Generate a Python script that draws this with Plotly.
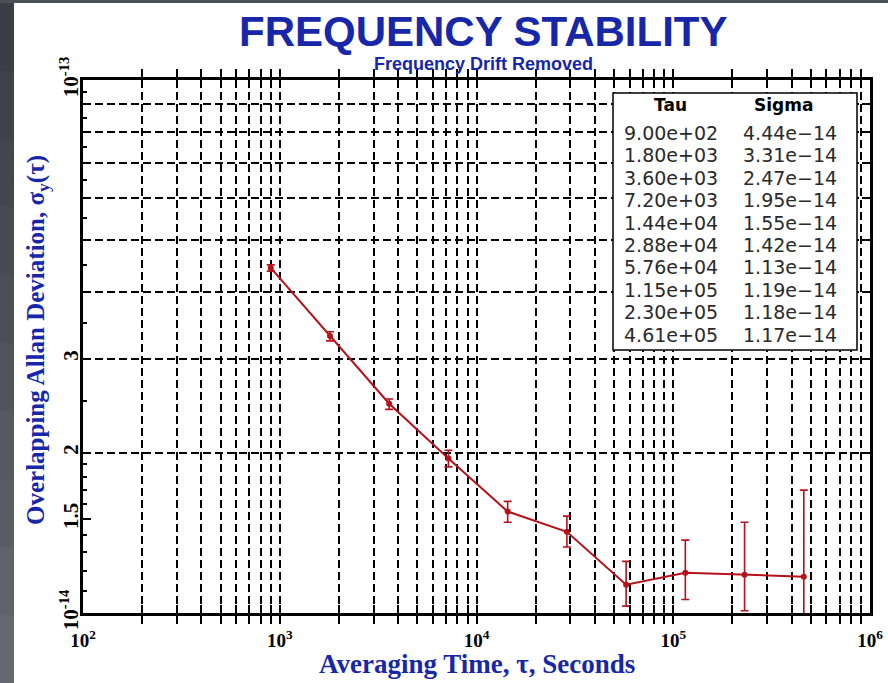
import plotly.graph_objects as go

# ---------------- data ----------------
tau = [900, 1800, 3600, 7200, 14400, 28800, 57600, 115200, 230400, 460800]
sigma = [4.44e-14, 3.31e-14, 2.47e-14, 1.95e-14, 1.55e-14, 1.42e-14,
         1.13e-14, 1.19e-14, 1.18e-14, 1.17e-14]
sigma_hi = [4.50e-14, 3.37e-14, 2.52e-14, 2.02e-14, 1.62e-14, 1.52e-14,
            1.25e-14, 1.37e-14, 1.48e-14, 1.70e-14]
sigma_lo = [4.38e-14, 3.24e-14, 2.41e-14, 1.88e-14, 1.48e-14, 1.33e-14,
            1.03e-14, 1.06e-14, 1.01e-14, 0.96e-14]

x_decades = [2, 3, 4, 5, 6]
y_label_vals = [1e-14, 1.5e-14, 2e-14, 3e-14, 1e-13]
y_label_text = ["10<sup>-14</sup>", "1.5", "2", "3", "10<sup>-13</sup>"]
y_grid_vals = [1e-14, 2e-14, 3e-14, 4e-14, 5e-14, 6e-14, 7e-14, 8e-14, 9e-14, 1e-13]
y_minor_vals = [1.1e-14, 1.2e-14, 1.3e-14, 1.4e-14, 1.6e-14, 1.7e-14, 1.8e-14, 1.9e-14,
                2.5e-14, 3.5e-14, 4.5e-14, 5.5e-14, 6.5e-14, 7.5e-14, 8.5e-14, 9.5e-14]

# ---------------- layout geometry ----------------
W_FIG, H_FIG = 888, 683
L, R, T, B = 83, 18, 80, 70
PW = W_FIG - L - R
PH = H_FIG - T - B


def px(xp):
    return (xp - L) / PW


def py(yp):
    return (H_FIG - B - yp) / PH


BLUE = "#1727a8"
RED = "#b5121b"
SERIF = "Liberation Serif"

x_tickvals, x_ticktext = [], []
for d in x_decades:
    for m in range(1, 10):
        if d == x_decades[-1] and m > 1:
            break
        x_tickvals.append(m * 10 ** d)
        x_ticktext.append(f"<b>10<sup>{d}</sup></b>" if m == 1 else "")

fig = go.Figure()
fig.add_trace(go.Scatter(
    x=tau, y=sigma, mode="lines+markers",
    line=dict(color=RED, width=2),
    marker=dict(color=RED, size=6, symbol="circle"),
    error_y=dict(type="data", symmetric=False,
                 array=[h - s for h, s in zip(sigma_hi, sigma)],
                 arrayminus=[s - l for s, l in zip(sigma, sigma_lo)],
                 color=RED, thickness=1.6, width=4),
    showlegend=False, hoverinfo="x+y",
))
# empty trace so the label axis exists
fig.add_trace(go.Scatter(x=[], y=[], yaxis="y2", showlegend=False))

grid = dict(showgrid=True, gridcolor="black", gridwidth=1.5, griddash="8px,4px")

fig.update_layout(
    template="none",
    width=W_FIG, height=H_FIG, autosize=False,
    margin=dict(l=L, r=R, t=T, b=B, pad=0),
    paper_bgcolor="#4b5058", plot_bgcolor="white",
    xaxis=dict(type="log", range=[2, 6], tickmode="array",
               tickvals=x_tickvals, ticktext=x_ticktext,
               tickfont=dict(family=SERIF, size=19, color="black"),
               ticks="inside", ticklen=8, tickcolor="black", tickwidth=1.5,
               showline=True, linecolor="black", linewidth=2.5, mirror="allticks",
               zeroline=False, ticklabelstandoff=8, automargin=False, **grid),
    yaxis=dict(type="log", range=[-14, -13], tickmode="array",
               tickvals=y_grid_vals, showticklabels=False,
               ticks="inside", ticklen=8, tickcolor="black", tickwidth=1.5,
               showline=True, linecolor="black", linewidth=2.5, mirror="allticks",
               zeroline=False, automargin=False, **grid),
    yaxis2=dict(type="log", range=[-14, -13], overlaying="y", side="left", anchor="x",
                tickmode="array", tickvals=y_label_vals,
                ticktext=[f"<b>{t}</b>" for t in y_label_text],
                tickangle=-90, tickfont=dict(family=SERIF, size=21, color="black"),
                ticks="inside", ticklen=8, tickcolor="black", tickwidth=1.5,
                minor=dict(tickmode="array", tickvals=y_minor_vals, ticks="inside",
                           ticklen=4, tickcolor="black", showgrid=False),
                showgrid=False, showline=False, zeroline=False, automargin=False),
)

# white page with dark window border strips
fig.add_shape(type="rect", xref="paper", yref="paper", layer="below",
              x0=px(14), x1=px(W_FIG + 5), y0=py(H_FIG + 5), y1=py(3),
              fillcolor="white", line=dict(width=0))
n_band = 10
for i in range(n_band):
    c0 = (58, 62, 70)
    c1 = (98, 103, 112)
    f = i / (n_band - 1)
    col = "rgb({},{},{})".format(*[int(a + (b - a) * f) for a, b in zip(c0, c1)])
    fig.add_shape(type="rect", xref="paper", yref="paper", layer="below",
                  x0=px(-2), x1=px(14), y0=py(3 + (H_FIG - 3) * (i + 1) / n_band + 1),
                  y1=py(3 + (H_FIG - 3) * i / n_band),
                  fillcolor=col, line=dict(width=0))

# legend table box
fig.add_shape(type="rect", xref="paper", yref="paper", layer="above",
              x0=px(613), x1=px(857), y0=py(350), y1=py(93),
              fillcolor="white", line=dict(color="black", width=1.5))

ann = []
ann.append(dict(text="<b>FREQUENCY STABILITY</b>", x=px(483), y=py(32),
                font=dict(family="Liberation Sans", size=42, color=BLUE)))
ann.append(dict(text="<b>Frequency Drift Removed</b>", x=px(483), y=py(64),
                font=dict(family="Liberation Sans", size=18, color=BLUE)))
ann.append(dict(text="<b>Averaging Time, \u03c4, Seconds</b>", x=0.5, y=py(664),
                font=dict(family=SERIF, size=27, color=BLUE)))
ann.append(dict(text="<b>Overlapping Allan Deviation, \u03c3<sub>y</sub>(\u03c4)</b>",
                x=px(37), y=py(340), textangle=-90,
                font=dict(family=SERIF, size=25, color=BLUE)))
TFONT = dict(family="DejaVu Sans", size=19, color="#2a2a2a")
ann.append(dict(text="<b>Tau</b>", x=px(670), y=py(105), font=dict(family="DejaVu Sans", size=17, color="black")))
ann.append(dict(text="<b>Sigma</b>", x=px(783), y=py(105), font=dict(family="DejaVu Sans", size=17, color="black")))
for i, (t, s) in enumerate(zip(tau, sigma)):
    yy = py(133 + 22.4 * i)
    ann.append(dict(text="{:.2e}".format(t), x=px(622), y=yy, xanchor="left", font=TFONT))
    ann.append(dict(text="{:.2e}".format(s).replace("-", "\u2212"), x=px(741), y=yy,
                    xanchor="left", font=TFONT))

for a in ann:
    a.setdefault("xanchor", "center")
    a.update(xref="paper", yref="paper", yanchor="middle", showarrow=False)
fig.update_layout(annotations=ann)

fig.write_html("out.html")
